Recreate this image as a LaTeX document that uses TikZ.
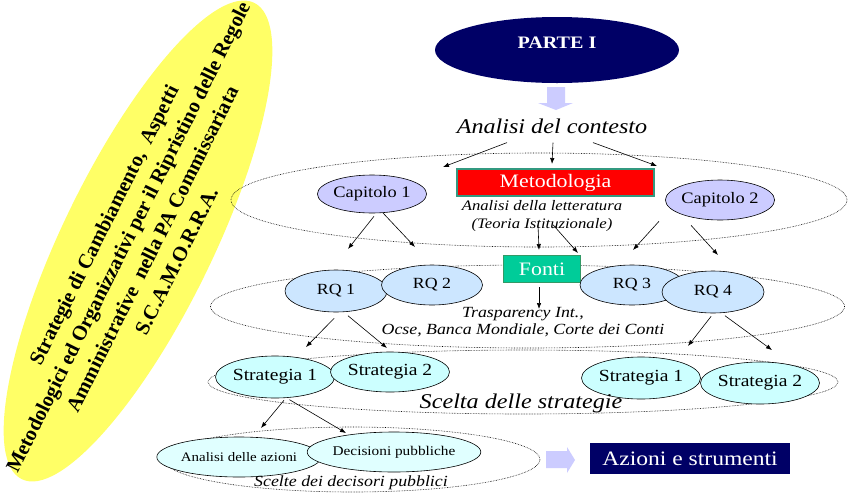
\documentclass[tikz,border=0pt]{standalone}
\usepackage{fontspec}
\setmainfont{Liberation Serif}[FakeStretch=1.15]
\newfontfamily\yfont{Liberation Serif}
\usetikzlibrary{shapes.geometric,arrows.meta}
\definecolor{navy}{HTML}{000066}
\definecolor{lav}{HTML}{CCCCFF}
\definecolor{rqblue}{HTML}{CCE6FF}
\definecolor{strcyan}{HTML}{CCFFFF}
\definecolor{azcyan}{HTML}{E0FFFF}
\definecolor{yel}{HTML}{FFFF66}
\definecolor{tealb}{HTML}{339980}
\definecolor{fontif}{HTML}{00CC99}
\definecolor{fontib}{HTML}{339966}
\newcommand{\fsz}[2]{\fontsize{#1}{#2}\selectfont}
\begin{document}
\begin{tikzpicture}[x=1pt,y=-1pt,
  dotell/.style={draw=black, densely dotted, line width=0.6pt},
  oval/.style={ellipse, draw=black, line width=0.6pt, inner sep=0pt},
  arr/.style={-{Latex[length=6pt,width=4.5pt]}, line width=0.6pt},
  blockarr/.style={fill=lav, draw=none},
  lbl/.style={inner sep=0pt, align=center}]
\useasboundingbox (0,0) rectangle (848,493);
\fill[white] (0,0) rectangle (848,493);

% yellow title ellipse
\fill[yel, rotate around={64:(138,241)}] (138,241) ellipse [x radius=265pt, y radius=75pt];
\node[rotate=63.5, lbl, font=\yfont\bfseries\fsz{20.6}{27}] (ytext) at (140,243)
  {Strategie di Cambiamento,\ \ Aspetti\\ Metodologici ed Organizzativi per il Ripristino delle Regole\\ Amministrative\ \ nella PA Commissariata\\ S.C.A.M.O.R.R.A.};

% PARTE I
\node[ellipse, fill=navy, minimum width=244pt, minimum height=66pt, inner sep=0pt] (parte) at (557,50) {};
\node[lbl, text=white, font=\bfseries\fsz{17.5}{20}] (parteT) at (557,43) {PARTE I};
\fill[blockarr] (547,87) -- (565,87) -- (565,103) -- (573,103) -- (556,110) -- (538,103) -- (547,103) -- cycle;

% Analisi del contesto
\node[lbl, font=\itshape\fsz{21}{25}] (ctx) at (552,126) {Analisi del contesto};

% level 1 dotted ellipse
\draw[dotell] (539,200) ellipse [x radius=308pt, y radius=47pt];

\node[oval, fill=lav, minimum width=102pt, minimum height=38pt, font=\fsz{16}{18}] (cap1) at (372,194) {Capitolo 1};
\node[oval, fill=lav, minimum width=104pt, minimum height=40pt, font=\fsz{16}{18}] (cap2) at (720,200) {Capitolo 2};
\node[draw=tealb, line width=1.5pt, fill=red, minimum width=197pt, minimum height=27pt, inner sep=0pt,
      text=white, font=\fsz{19}{22}] (meto) at (555.5,182.5) {Metodologia};
\node[lbl, font=\itshape\fsz{14.5}{18}] (lett) at (542,216) {Analisi della letteratura\\(Teoria Istituzionale)};

\coordinate (e1) at (443,167);
\coordinate (e2) at (552,164);
\coordinate (e3) at (657,166);
\draw[arr] ([xshift=-45pt,yshift=-9pt]ctx.south) -- (e1);
\draw[arr] ([xshift=1pt,yshift=-9pt]ctx.south) -- (e2);
\draw[arr] ([xshift=41pt,yshift=-9pt]ctx.south) -- (e3);

% level 2 dotted ellipse
\draw[dotell] (527.5,306.5) ellipse [x radius=317pt, y radius=41.5pt];

\node[draw=fontib, line width=1.2pt, fill=fontif, minimum width=77pt, minimum height=27pt, inner sep=0pt,
      text=white, font=\fsz{19}{22}] (fonti) at (542,269) {Fonti};

\node[oval, fill=rqblue, minimum width=102pt, minimum height=42pt, font=\fsz{15.5}{18}] (rq1) at (336,291) {RQ 1};
\node[oval, fill=rqblue, minimum width=101pt, minimum height=40pt, font=\fsz{15.5}{18}] (rq2) at (432,285) {RQ 2};
\node[oval, fill=rqblue, minimum width=104pt, minimum height=40pt, font=\fsz{15.5}{18}] (rq3) at (632,285) {RQ 3};
\node[oval, fill=rqblue, minimum width=102pt, minimum height=42pt, font=\fsz{15.5}{18}] (rq4) at (713,292) {RQ 4};
\node[lbl, font=\itshape\fsz{15.5}{17}] (trasp) at (523,322) {Trasparency Int.,\\Ocse, Banca Mondiale, Corte dei Conti};

\coordinate (c1a) at (348,249);
\coordinate (c1b) at (415,247);
\coordinate (m1) at (539,250);
\coordinate (m2) at (578,253);
\coordinate (c2a) at (633,250);
\coordinate (c2b) at (718,255);
\coordinate (f1) at (539,309);
\draw[arr] ([xshift=2pt,yshift=-3pt]cap1.south) -- (c1a);
\draw[arr] (cap1.-60) -- (c1b);
\draw[arr] ([xshift=-17.5pt,yshift=-28pt]meto.south) -- (m1);
\draw[arr] ([xshift=-2.5pt,yshift=-28pt]meto.south) -- (m2);
\draw[arr] ([xshift=-61pt,yshift=-1pt]cap2.south) -- (c2a);
\draw[arr] ([xshift=-29pt,yshift=-5pt]cap2.south) -- (c2b);
\draw[arr] ([xshift=-3pt,yshift=-4pt]fonti.south) -- (f1);

% level 3 dotted ellipse
\draw[dotell] (523,382) ellipse [x radius=315pt, y radius=32pt];

\node[oval, fill=strcyan, minimum width=104pt, minimum height=42pt, font=\fsz{17}{19}] (s1l) at (275,377) {Strategia 1};
\node[oval, fill=strcyan, minimum width=102pt, minimum height=40pt, font=\fsz{17}{19}] (s2l) at (390,372) {Strategia 2};
\node[oval, fill=strcyan, minimum width=102pt, minimum height=42pt, font=\fsz{17}{19}] (s1r) at (641,378) {Strategia 1};
\node[oval, fill=strcyan, minimum width=104pt, minimum height=42pt, font=\fsz{17}{19}] (s2r) at (760,383) {Strategia 2};
\node[lbl, font=\itshape\fsz{21}{25}] (scelta) at (521,403) {Scelta delle strategie};

\coordinate (r1a) at (306,347);
\coordinate (r1b) at (387,348);
\coordinate (r4a) at (688,346);
\coordinate (r4b) at (772,350);
\draw[arr] ([yshift=-6pt]rq1.-95) -- (r1a);
\draw[arr] ([yshift=-4pt]rq1.-60) -- (r1b);
\draw[arr] ([yshift=-3pt]rq4.-95) -- (r4a);
\draw[arr] ([yshift=-3pt]rq4.-60) -- (r4b);

% level 4
\draw[dotell] (352,459.5) ellipse [x radius=188pt, y radius=32.5pt];
\node[oval, fill=azcyan, minimum width=122pt, minimum height=40pt, font=\fsz{13}{15}] (az1) at (239,457) {Analisi delle azioni};
\node[oval, fill=azcyan, minimum width=122pt, minimum height=40pt, font=\fsz{13.3}{15}] (dec) at (394,452) {Decisioni pubbliche};
\node[lbl, font=\itshape\fsz{15.5}{18}] (scelte) at (351,483) {Scelte dei decisori pubblici};

\coordinate (sa) at (261,428);
\coordinate (sb) at (346,433);
\draw[arr] ([xshift=9pt,yshift=-2pt]s1l.south) -- (sa);
\draw[arr] ([yshift=-2pt]s1l.-55) -- (sb);

\fill[blockarr] (546,451) -- (567,451) -- (567,447) -- (575,460) -- (567,473) -- (567,468) -- (546,468) -- cycle;
\node[fill=navy, minimum width=200pt, minimum height=31pt, inner sep=0pt, text=white, font=\fsz{20.5}{23}] (azioni) at (690,458.5) {Azioni e strumenti};
\end{tikzpicture}
\end{document}
